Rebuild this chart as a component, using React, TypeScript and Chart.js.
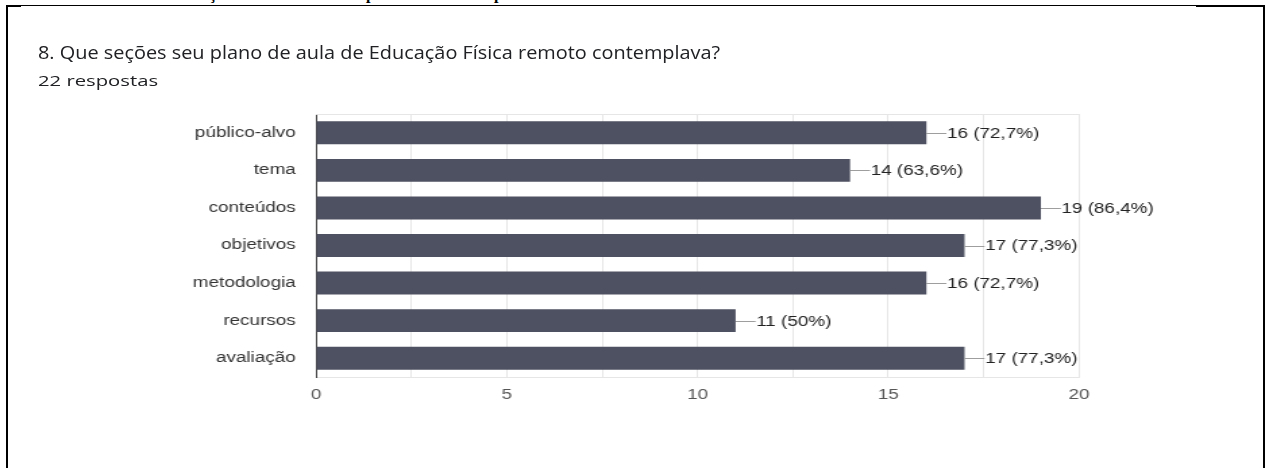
import React, { useEffect, useRef } from "react";
import { Chart, registerables } from "chart.js";

Chart.register(...registerables);

const categories = ["público-alvo", "tema", "conteúdos", "objetivos", "metodologia", "recursos", "avaliação"];
const counts = [16, 14, 19, 17, 16, 11, 17];
const percentLabels = ["72,7%", "63,6%", "86,4%", "77,3%", "72,7%", "50%", "77,3%"];
const xMin = 0;
const xMax = 20;
const xGridStep = 2.5;
const xLabelStep = 5;

const SX = 1.35; // horizontal stretch of the reference
const W = 1270;
const H = 468;
const CW = Math.round(W / SX);

const labelPlugin = {
  id: "valueLabels",
  afterDatasetsDraw(chart: any) {
    const ctx = chart.ctx;
    const meta = chart.getDatasetMeta(0);
    ctx.save();
    ctx.font = "14px 'Liberation Sans', Arial, sans-serif";
    ctx.textBaseline = "middle";
    ctx.textAlign = "left";
    meta.data.forEach((bar: any, i: number) => {
      const x = bar.x;
      const y = bar.y;
      ctx.strokeStyle = "#9e9e9e";
      ctx.lineWidth = 1;
      ctx.beginPath();
      ctx.moveTo(x, Math.round(y) + 0.5);
      ctx.lineTo(x + 14.8, Math.round(y) + 0.5);
      ctx.stroke();
      ctx.fillStyle = "#222";
      ctx.fillText(`${counts[i]} (${percentLabels[i]})`, x + 15.2, y + 1);
    });
    ctx.restore();
  },
};

const topLinePlugin = {
  id: "topLine",
  beforeDatasetsDraw(chart: any) {
    const { ctx, chartArea } = chart;
    ctx.save();
    ctx.strokeStyle = "#e6e6e6";
    ctx.lineWidth = 1;
    ctx.beginPath();
    ctx.moveTo(chartArea.left, chartArea.top + 0.5);
    ctx.lineTo(chartArea.right, chartArea.top + 0.5);
    ctx.stroke();
    ctx.restore();
  },
};

export default function App() {
  const ref = useRef<HTMLCanvasElement | null>(null);

  useEffect(() => {
    document.body.style.margin = "0";
    const canvas = ref.current!;
    const chart = new Chart(canvas, {
      type: "bar",
      data: {
        labels: categories,
        datasets: [
          {
            data: counts,
            backgroundColor: "#4e5161",
            borderWidth: 0,
            barPercentage: 0.61,
            categoryPercentage: 1,
          },
        ],
      },
      options: {
        indexAxis: "y",
        animation: false,
        responsive: false,
        devicePixelRatio: 1,
        layout: { padding: { left: 0, top: 114, right: CW - 1079 / SX, bottom: 51 } },
        plugins: { legend: { display: false }, tooltip: { enabled: false } },
        scales: {
          x: {
            min: xMin,
            max: xMax,
            ticks: {
              stepSize: xGridStep,
              padding: 10,
              color: "#555",
              font: { family: "'Liberation Sans', Arial, sans-serif", size: 14 },
              callback: (v: any) => (Number(v) % xLabelStep === 0 ? String(v) : ""),
              maxRotation: 0,
              autoSkip: false,
            },
            grid: { color: "#e6e6e6", drawTicks: false },
            border: { color: "#e6e6e6", width: 1 },
            afterFit: (s: any) => {
              s.height = 40;
            },
          },
          y: {
            ticks: {
              padding: 15,
              color: "#333",
              font: { family: "'Liberation Sans', Arial, sans-serif", size: 14 },
            },
            grid: { display: false, drawTicks: false },
            border: { color: "#444", width: 1 },
            afterFit: (s: any) => {
              s.width = 316 / SX;
            },
          },
        },
      },
      plugins: [labelPlugin, topLinePlugin],
    });
    return () => chart.destroy();
  }, []);

  return (
    <div style={{ position: "absolute", left: 0, top: 0, width: W, height: H, overflow: "hidden", background: "#fff" }}>
      {/* clipped descenders of the text above */}
      <div style={{ position: "absolute", left: 0, top: 0, width: W, height: 5, overflow: "hidden", fontFamily: "'Liberation Serif', serif", fontSize: 16, fontWeight: "bold", color: "#000" }}>
        <span style={{ position: "absolute", left: 209, top: -14, lineHeight: "16px" }}>ç</span>
        <span style={{ position: "absolute", left: 366, top: -14, lineHeight: "16px" }}>p</span>
        <span style={{ position: "absolute", left: 494, top: -14, lineHeight: "16px" }}>p</span>
      </div>
      {/* frame */}
      <div style={{ position: "absolute", left: 6, top: 5, width: 1190, height: 1, background: "#000" }} />
      <div style={{ position: "absolute", left: 6, top: 5, width: 15, height: 2, background: "#000" }} />
      <div style={{ position: "absolute", left: 1196, top: 5, width: 69, height: 2, background: "#000" }} />
      <div style={{ position: "absolute", left: 6, top: 5, width: 2, height: H, background: "#000" }} />
      <div style={{ position: "absolute", left: 1263, top: 5, width: 2, height: H, background: "#000" }} />

      <div style={{ position: "absolute", left: 0, top: 0, width: CW, height: H, transform: `scaleX(${SX})`, transformOrigin: "0 0" }}>
        <canvas ref={ref} width={CW} height={H} style={{ position: "absolute", left: 0, top: 0, width: CW, height: H }} />
      </div>
      <div style={{ position: "absolute", left: 38, top: 40, fontFamily: "'Open Sans', sans-serif", fontSize: 18, color: "#202124", whiteSpace: "nowrap", lineHeight: "24px", transform: "scaleX(1.105)", transformOrigin: "0 0" }}>
        8. Que seções seu plano de aula de Educação Física remoto contemplava?
      </div>
      <div style={{ position: "absolute", left: 38, top: 70, fontFamily: "'Open Sans', sans-serif", fontSize: 15, color: "#202124", whiteSpace: "nowrap", lineHeight: "20px", transform: "scaleX(1.35)", transformOrigin: "0 0" }}>
        22 respostas
      </div>
    </div>
  );
}
